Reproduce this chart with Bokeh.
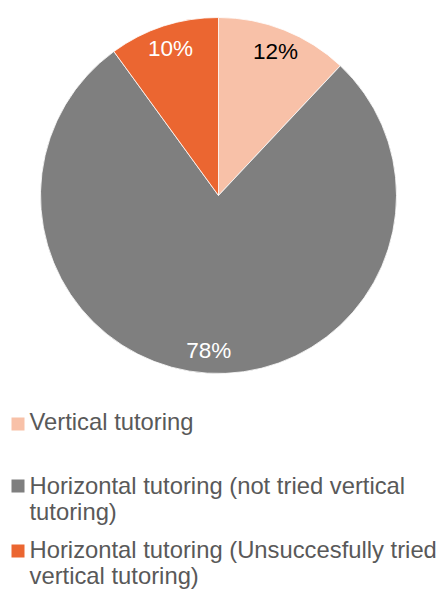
import math
from bokeh.plotting import figure
from bokeh.models import Range1d, ColumnDataSource
from bokeh.core.properties import value
from bokeh.embed import file_html
from bokeh.resources import INLINE

categories = ["Vertical tutoring",
              "Horizontal tutoring (not tried vertical tutoring)",
              "Horizontal tutoring (Unsuccesfully tried vertical tutoring)"]
shares = [12, 78, 10]
pct_labels = ["12%", "78%", "10%"]
colors = ["#F8C1A8", "#7F7F7F", "#EB6631"]
label_colors = ["#000000", "#FFFFFF", "#FFFFFF"]
legend_lines = [["Vertical tutoring"],
                ["Horizontal tutoring (not tried vertical", "tutoring)"],
                ["Horizontal tutoring (Unsuccesfully tried", "vertical tutoring)"]]

W, H = 440, 590
p = figure(width=W, height=H, output_backend="svg", toolbar_location=None,
           x_range=Range1d(0, W), y_range=Range1d(0, H), min_border=0)
p.axis.visible = False
p.grid.visible = False
p.outline_line_color = None
p.background_fill_color = "white"
p.border_fill_color = "white"

cx, cy, R = 218, H - 195, 178
total = sum(shares)
starts, ends, lx, ly = [], [], [], []
a = math.pi / 2
for s in shares:
    sweep = 2 * math.pi * s / total
    starts.append(a - sweep)
    ends.append(a)
    mid = a - sweep / 2
    lx.append(cx + 155 * math.cos(mid))
    ly.append(cy + 155 * math.sin(mid))
    a -= sweep

src = ColumnDataSource(dict(start=starts, end=ends, color=colors,
                            lx=lx, ly=ly, lab=pct_labels, lc=label_colors))
p.wedge(x=cx, y=cy, radius=R, radius_units="screen", start_angle="start",
        end_angle="end", fill_color="color", line_color="white", line_width=0.8,
        source=src)
p.text(x="lx", y="ly", text="lab", text_color="lc", source=src,
       text_font=value("Liberation Sans"), text_font_size="22.5px",
       text_align="center", text_baseline="middle")

# legend
sq_tops = [417, 479, 544]
baselines = [[421], [485, 511], [549, 575]]
for i, lines in enumerate(legend_lines):
    t = sq_tops[i]
    p.quad(left=11, right=24, top=H - t, bottom=H - t - 13,
           fill_color=colors[i], line_color=None)
    for j, ln in enumerate(lines):
        p.text(x=[29], y=[H - baselines[i][j]], text=[ln],
               text_color="#595959", text_font=value("Liberation Sans"),
               text_font_size="23.8px", text_baseline="alphabetic",
               text_align="left")

open("out.html", "w").write(file_html(p, INLINE))
